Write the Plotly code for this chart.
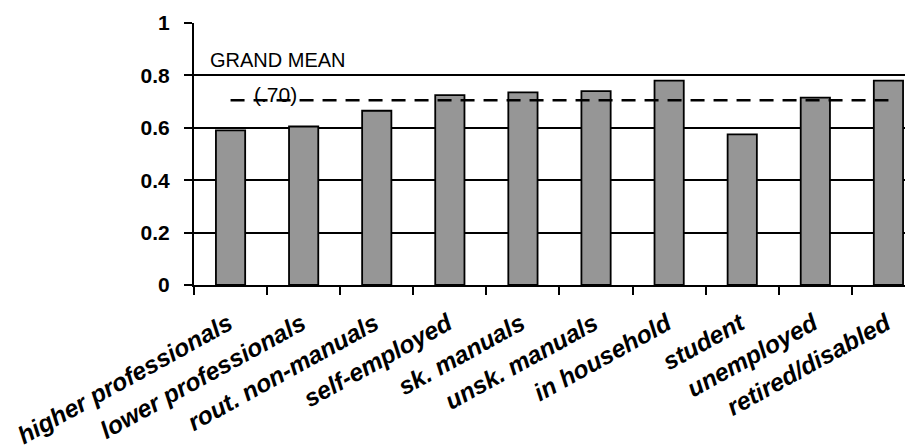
import plotly.graph_objects as go

categories = ["higher professionals", "lower professionals", "rout. non-manuals",
              "self-employed", "sk. manuals", "unsk. manuals", "in household",
              "student", "unemployed", "retired/disabled"]
values = [0.59, 0.605, 0.665, 0.725, 0.735, 0.74, 0.78, 0.575, 0.715, 0.78]
grand_mean = 0.705
y_ticks = [0, 0.2, 0.4, 0.6, 0.8, 1]
y_tick_labels = ["0", "0.2", "0.4", "0.6", "0.8", "1"]

FONT = "Liberation Sans, Arial, sans-serif"

fig = go.Figure()
fig.add_trace(go.Bar(
    x=categories, y=values, width=0.4,
    marker=dict(color="#969696", line=dict(color="black", width=1.8)),
    showlegend=False, hoverinfo="skip"))
fig.add_trace(go.Scatter(
    x=[categories[0], categories[-1]], y=[grand_mean, grand_mean],
    mode="lines", line=dict(color="black", width=2.6, dash="14px,9px"),
    showlegend=False, hoverinfo="skip"))

fig.add_annotation(text="GRAND MEAN", xref="paper", yref="y", x=0.0195, y=0.857,
                   xanchor="left", yanchor="middle", showarrow=False,
                   font=dict(family=FONT, size=20, color="black"))
fig.add_annotation(text="(.70)", xref="paper", yref="y", x=0.114, y=0.728,
                   xanchor="center", yanchor="middle", showarrow=False,
                   font=dict(family=FONT, size=21, color="black"))

# page body has an 8px margin, so the figure is sized/placed to compensate
fig.update_layout(
    width=905, height=440,
    margin=dict(l=186, r=0, t=14.5, b=162.5, pad=0),
    paper_bgcolor="white", plot_bgcolor="white",
    bargap=0.6,
)
fig.update_xaxes(
    type="category", range=[-0.5, 9.336], automargin=False,
    tickson="boundaries", ticks="outside", ticklen=8, tickwidth=2, tickcolor="black",
    showline=True, linecolor="black", linewidth=2, showgrid=False,
    tickangle=-29, ticklabelstandoff=13, ticklabelshift=-2,
    tickfont=dict(family=FONT, size=24.5, color="black", weight="bold", style="italic"),
)
fig.update_yaxes(
    range=[0, 1], tickvals=y_ticks, ticktext=y_tick_labels, automargin=False,
    ticks="outside", ticklen=8, tickwidth=2, tickcolor="black",
    showline=True, linecolor="black", linewidth=2,
    showgrid=True, gridcolor="black", gridwidth=2,
    zeroline=False, ticklabelstandoff=10,
    tickfont=dict(family=FONT, size=21, color="black", weight="bold"),
)

fig.write_html("out.html")
